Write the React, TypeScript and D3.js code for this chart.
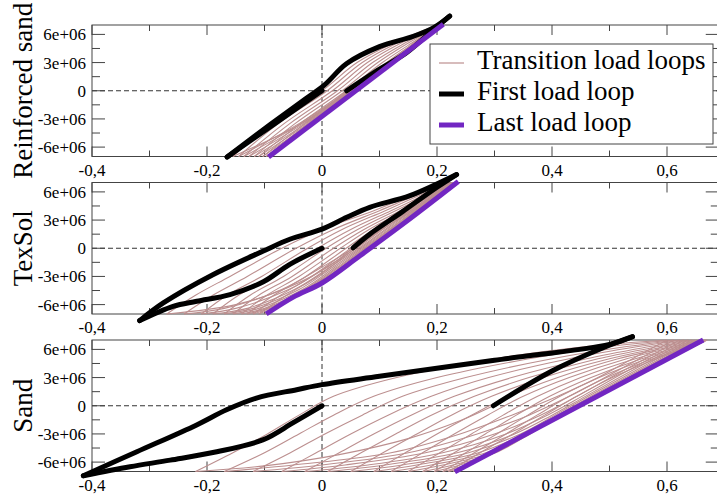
import * as d3 from 'd3';

// axis ticks; stress values are in units of 1e6
const xMajor = [-0.4, -0.2, 0, 0.2, 0.4, 0.6];
const xMinor = [-0.3, -0.1, 0.1, 0.3, 0.5];
const xLabels = ['-0,4', '-0,2', '0', '0,2', '0,4', '0,6'];
const yMajor = [-6, -3, 0, 3, 6];
const yMinor = [-4.5, -1.5, 1.5, 4.5];
const yLabels = ['-6e+06', '-3e+06', '0', '3e+06', '6e+06'];
const panelNames = ['Reinforced sand', 'TexSol', 'Sand'];
const legendLabels = ['Transition load loops', 'First load loop', 'Last load loop'];

// ---- Reinforced sand ----
const reinfFirstDown = [[0, 0], [-0.082, -3.5], [-0.165, -7.05]];
const reinfFirstUp = [[-0.165, -7.05], [-0.09, -3.6], [-0.032, -1.0], [0.004, 0.6], [0.043, 2.9], [0.1, 4.7], [0.159, 5.8], [0.195, 6.75], [0.222, 7.95]];
const reinfFirstBack = [[0.222, 7.95], [0.19, 6.3], [0.147, 4.04], [0.1, 2.3], [0.043, 0]];
const reinfLast = [[-0.093, -7.05], [0.211, 7.07]];
const reinfLead = [[0.043, 0], [-0.03, -3.3], [-0.155, -7]];
const reinfLoadY = [-7, -3.5, 0, 3, 5, 7];
const reinfUnloadY = [5, 2.5, 0, -3.5, -7];
const reinfLoad = [
  [-0.155, -0.087, 0.0, 0.061, 0.122, 0.201],
  [-0.145, -0.076, 0.009, 0.07, 0.128, 0.203],
  [-0.136, -0.066, 0.018, 0.079, 0.135, 0.204],
  [-0.127, -0.056, 0.027, 0.088, 0.142, 0.205],
  [-0.118, -0.047, 0.035, 0.097, 0.148, 0.206],
  [-0.11, -0.038, 0.042, 0.105, 0.154, 0.207],
  [-0.103, -0.03, 0.048, 0.112, 0.159, 0.208],
  [-0.097, -0.024, 0.053, 0.118, 0.163, 0.209],
];
const reinfUnload = [
  [0.158, 0.103, 0.047, -0.04, -0.145],
  [0.16, 0.105, 0.049, -0.036, -0.136],
  [0.161, 0.106, 0.051, -0.032, -0.127],
  [0.162, 0.107, 0.052, -0.028, -0.118],
  [0.163, 0.108, 0.054, -0.025, -0.11],
  [0.164, 0.109, 0.055, -0.022, -0.103],
  [0.165, 0.11, 0.056, -0.02, -0.097],
  [0.165, 0.111, 0.057, -0.018, -0.094],
];

// ---- TexSol ----
const texFirstDown = [[0, 0], [-0.056, -1.71], [-0.102, -3.57], [-0.16, -4.93], [-0.218, -5.64], [-0.259, -6.18], [-0.317, -7.7]];
const texFirstUp = [[-0.317, -7.7], [-0.276, -5.82], [-0.189, -2.79], [-0.102, -0.29], [-0.056, 0.96], [0, 2.04], [0.043, 3.29], [0.083, 4.36], [0.153, 5.6], [0.234, 7.85]];
const texFirstBack = [[0.234, 7.85], [0.2, 6.5], [0.14, 3.9], [0.083, 1.5], [0.054, 0.05]];
const texLast = [[-0.097, -7], [-0.05, -5.2], [0, -3.7], [0.066, -0.8], [0.15, 3.0], [0.237, 7.1]];
const texLead = [[0.054, 0.05], [0.01, -2], [-0.06, -4.2], [-0.15, -6.0], [-0.27, -7]];
const texLoadY = [-7, -5, -3, 0, 2, 4, 5.5, 7];
const texUnloadY = [5.5, 3, 0.5, -2, -4.4, -6.4, -7];
const texLoad = [
  [-0.27, -0.22, -0.16, -0.07, 0.0, 0.09, 0.15, 0.215],
  [-0.24, -0.19, -0.13, -0.045, 0.02, 0.1, 0.158, 0.22],
  [-0.21, -0.165, -0.105, -0.025, 0.035, 0.11, 0.165, 0.222],
  [-0.19, -0.145, -0.085, -0.008, 0.05, 0.12, 0.172, 0.225],
  [-0.17, -0.125, -0.067, 0.007, 0.062, 0.128, 0.178, 0.227],
  [-0.155, -0.11, -0.052, 0.02, 0.073, 0.136, 0.183, 0.229],
  [-0.14, -0.096, -0.04, 0.032, 0.082, 0.143, 0.187, 0.23],
  [-0.13, -0.084, -0.028, 0.042, 0.09, 0.149, 0.191, 0.232],
  [-0.12, -0.072, -0.018, 0.05, 0.097, 0.154, 0.194, 0.233],
  [-0.11, -0.062, -0.008, 0.058, 0.104, 0.158, 0.197, 0.234],
];
const texUnload = [
  [0.18, 0.124, 0.068, 0.0, -0.07, -0.17, -0.24],
  [0.184, 0.128, 0.072, 0.008, -0.058, -0.15, -0.21],
  [0.187, 0.132, 0.076, 0.014, -0.048, -0.13, -0.19],
  [0.19, 0.135, 0.079, 0.019, -0.04, -0.12, -0.17],
  [0.192, 0.138, 0.082, 0.023, -0.034, -0.11, -0.155],
  [0.194, 0.14, 0.085, 0.027, -0.03, -0.1, -0.14],
  [0.196, 0.142, 0.087, 0.03, -0.027, -0.095, -0.13],
  [0.197, 0.144, 0.089, 0.033, -0.025, -0.09, -0.12],
  [0.198, 0.145, 0.091, 0.035, -0.024, -0.086, -0.11],
  [0.199, 0.146, 0.093, 0.037, -0.023, -0.083, -0.1],
];

// ---- Sand ----
const sandFirstDown = [[0, 0], [-0.05, -1.8], [-0.103, -3.64], [-0.183, -4.9], [-0.264, -5.79], [-0.334, -6.5], [-0.415, -7.45]];
const sandFirstUp = [[-0.415, -7.45], [-0.322, -4.9], [-0.218, -2.04], [-0.166, -0.43], [-0.114, 0.82], [-0.044, 1.71], [0, 2.25], [0.1, 3.14], [0.3, 4.85], [0.5, 6.54], [0.54, 7.35]];
const sandFirstBack = [[0.54, 7.35], [0.49, 6.2], [0.4, 3.7], [0.298, 0]];
const sandLast = [[0.231, -7.04], [0.663, 7.0]];
const sandLead = [[0.298, 0], [0.24, -1.6], [0.15, -3.5], [0.03, -5.2], [-0.1, -6.4], [-0.22, -7]];
const sandLoadY = [-7, -5, -3, -1, 1, 3, 5, 6.3, 7];
const sandUnloadY = [5, 3, 1, -1, -3, -5, -6.3, -7];
const sandLoad = [
  [-0.22, -0.155, -0.095, -0.04, 0.02, 0.13, 0.3, 0.46, 0.6],
  [-0.17, -0.1, -0.04, 0.02, 0.09, 0.2, 0.36, 0.5, 0.612],
  [-0.12, -0.055, 0.005, 0.07, 0.14, 0.25, 0.4, 0.53, 0.622],
  [-0.07, -0.01, 0.05, 0.115, 0.19, 0.29, 0.43, 0.55, 0.63],
  [-0.03, 0.03, 0.09, 0.155, 0.23, 0.33, 0.46, 0.57, 0.637],
  [0.01, 0.068, 0.128, 0.19, 0.265, 0.36, 0.48, 0.585, 0.643],
  [0.05, 0.106, 0.165, 0.225, 0.295, 0.385, 0.5, 0.597, 0.648],
  [0.09, 0.145, 0.2, 0.26, 0.325, 0.41, 0.515, 0.607, 0.653],
  [0.12, 0.175, 0.23, 0.288, 0.35, 0.43, 0.53, 0.615, 0.657],
  [0.15, 0.205, 0.26, 0.315, 0.375, 0.45, 0.545, 0.622, 0.66],
  [0.175, 0.23, 0.284, 0.338, 0.396, 0.468, 0.556, 0.628, 0.663],
  [0.195, 0.25, 0.304, 0.358, 0.414, 0.482, 0.566, 0.633, 0.666],
  [0.21, 0.265, 0.32, 0.374, 0.43, 0.495, 0.575, 0.638, 0.668],
  [0.22, 0.275, 0.332, 0.387, 0.443, 0.505, 0.582, 0.642, 0.67],
];
const sandUnload = [
  [0.54, 0.48, 0.41, 0.33, 0.24, 0.12, -0.05, -0.17],
  [0.552, 0.492, 0.43, 0.36, 0.27, 0.15, 0.0, -0.12],
  [0.562, 0.502, 0.443, 0.38, 0.3, 0.18, 0.04, -0.07],
  [0.57, 0.51, 0.452, 0.392, 0.32, 0.21, 0.08, -0.03],
  [0.577, 0.517, 0.458, 0.4, 0.335, 0.235, 0.11, 0.01],
  [0.583, 0.523, 0.463, 0.405, 0.345, 0.255, 0.14, 0.05],
  [0.588, 0.528, 0.468, 0.409, 0.352, 0.272, 0.165, 0.09],
  [0.592, 0.532, 0.472, 0.412, 0.357, 0.285, 0.19, 0.12],
  [0.596, 0.535, 0.475, 0.415, 0.36, 0.295, 0.21, 0.15],
  [0.599, 0.538, 0.477, 0.417, 0.362, 0.302, 0.228, 0.175],
  [0.601, 0.54, 0.479, 0.418, 0.358, 0.3, 0.24, 0.195],
  [0.603, 0.541, 0.48, 0.419, 0.357, 0.298, 0.25, 0.21],
  [0.604, 0.542, 0.48, 0.419, 0.357, 0.296, 0.256, 0.22],
  [0.605, 0.543, 0.481, 0.419, 0.357, 0.295, 0.255, 0.228],
];

const W = 717;
const H = 498;
const plotLeft = 92;
const plotRight = 718.75;
const panelTops = [25, 182.5, 340];
const panelH = 131.5;

const TRANS = '#bc8f8f';
const PURPLE = '#7226c2';
const AXIS = '#444';
const FONT = "'Liberation Serif', 'Times New Roman', 'DejaVu Serif', serif";

// turn level tables into branch polylines
function transitionBranches(loadY: number[], unloadY: number[], load: number[][], unload: number[][]) {
  const out: number[][][] = [];
  load.forEach((lx, i) => {
    out.push(lx.map((v, j) => [v, loadY[j]]));
    const tip = [lx[lx.length - 1], loadY[loadY.length - 1]];
    out.push([tip, ...unload[i].map((v, j) => [v, unloadY[j]])]);
  });
  return out;
}

const panels = [
  {
    lead: reinfLead,
    trans: transitionBranches(reinfLoadY, reinfUnloadY, reinfLoad, reinfUnload),
    first: [reinfFirstDown, reinfFirstUp, reinfFirstBack],
    last: [reinfLast],
  },
  {
    lead: texLead,
    trans: transitionBranches(texLoadY, texUnloadY, texLoad, texUnload),
    first: [texFirstDown, texFirstUp, texFirstBack],
    last: [texLast],
  },
  {
    lead: sandLead,
    trans: transitionBranches(sandLoadY, sandUnloadY, sandLoad, sandUnload),
    first: [sandFirstDown, sandFirstUp, sandFirstBack],
    last: [sandLast],
  },
];

export default function App() {
  const x = d3.scaleLinear().domain([-0.4, 0.69]).range([plotLeft, plotRight]);

  return (
    <svg
      width={W}
      height={H}
      style={{ position: 'absolute', left: 0, top: 0, background: '#fff', fontFamily: FONT }}
    >
      {panels.map((p, pi) => {
        const top = panelTops[pi];
        const bottom = top + panelH;
        const y = d3.scaleLinear().domain([-7, 7]).range([bottom, top]);
        const line = d3.line<number[]>()
          .x((d) => x(d[0]))
          .y((d) => y(d[1]))
          .curve(d3.curveCatmullRom.alpha(0.5));
        return (
          <g key={pi}>
            <rect x={plotLeft} y={top} width={plotRight - plotLeft} height={panelH} fill="none" stroke={AXIS} />
            <line x1={x(0)} x2={x(0)} y1={top} y2={bottom} stroke="#333" strokeDasharray="5 3" />
            <line x1={plotLeft} x2={plotRight} y1={y(0)} y2={y(0)} stroke="#333" strokeDasharray="5 3" />

            {xMajor.map((t) => (
              <g key={`xm${t}`} stroke={AXIS}>
                <line x1={x(t)} x2={x(t)} y1={bottom} y2={bottom - 10} />
                <line x1={x(t)} x2={x(t)} y1={top} y2={top + 10} />
              </g>
            ))}
            {xMinor.map((t) => (
              <g key={`xn${t}`} stroke={AXIS}>
                <line x1={x(t)} x2={x(t)} y1={bottom} y2={bottom - 6} />
                <line x1={x(t)} x2={x(t)} y1={top} y2={top + 6} />
              </g>
            ))}
            {yMajor.map((t) => (
              <g key={`ym${t}`} stroke={AXIS}>
                <line x1={plotLeft} x2={plotLeft + 13} y1={y(t)} y2={y(t)} />
                <line x1={plotRight} x2={plotRight - 13} y1={y(t)} y2={y(t)} />
              </g>
            ))}
            {yMinor.map((t) => (
              <g key={`yn${t}`} stroke={AXIS}>
                <line x1={plotLeft} x2={plotLeft + 8} y1={y(t)} y2={y(t)} />
                <line x1={plotRight} x2={plotRight - 8} y1={y(t)} y2={y(t)} />
              </g>
            ))}

            {xMajor.map((t, i) => (
              <text key={`xl${t}`} x={x(t)} y={bottom + 19} fontSize={17} textAnchor="middle">
                {xLabels[i]}
              </text>
            ))}
            {yMajor.map((t, i) => (
              <text key={`yl${t}`} x={86} y={y(t) + 6} fontSize={17} textAnchor="end">
                {yLabels[i]}
              </text>
            ))}
            <text
              transform={`translate(32,${(top + bottom) / 2}) rotate(-90)`}
              fontSize={27}
              textAnchor="middle"
            >
              {panelNames[pi]}
            </text>

            <path d={line(p.lead) ?? ''} fill="none" stroke={TRANS} strokeWidth={1.1} />
            {p.trans.map((b, i) => (
              <path key={`t${i}`} d={line(b) ?? ''} fill="none" stroke={TRANS} strokeWidth={1.1} />
            ))}
            {p.first.map((b, i) => (
              <path key={`f${i}`} d={line(b) ?? ''} fill="none" stroke="#000" strokeWidth={5} strokeLinecap="round" />
            ))}
            {p.last.map((b, i) => (
              <path key={`l${i}`} d={line(b) ?? ''} fill="none" stroke={PURPLE} strokeWidth={5} />
            ))}
          </g>
        );
      })}

      <g>
        <rect x={430} y={44} width={283} height={100} fill="#fff" stroke={AXIS} />
        <line x1={439} x2={464} y1={63} y2={63} stroke={TRANS} strokeWidth={1.2} />
        <line x1={439} x2={464} y1={94} y2={94} stroke="#000" strokeWidth={5} />
        <line x1={439} x2={464} y1={125} y2={125} stroke={PURPLE} strokeWidth={5} />
        {legendLabels.map((t, i) => (
          <text key={t} x={477} y={69 + i * 31} fontSize={27}>
            {t}
          </text>
        ))}
      </g>
    </svg>
  );
}
